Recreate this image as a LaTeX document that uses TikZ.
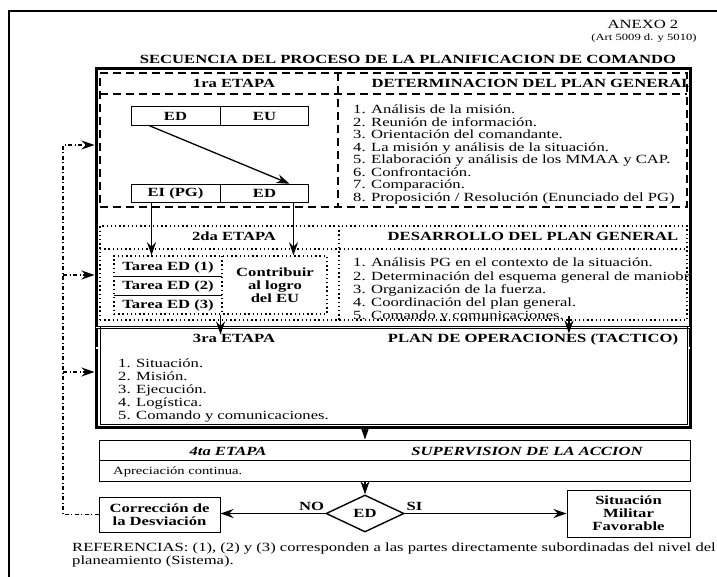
\documentclass[tikz,border=0pt]{standalone}
\usepackage{fontspec}
\setmainfont{Liberation Serif}[FakeStretch=1.33]
\usetikzlibrary{arrows.meta,shapes.multipart,shapes.geometric,calc}
\newcommand{\txtsize}{\fontsize{12.5}{13}\selectfont}
\tikzset{
  item/.style={ % one line of a list
    font=\txtsize, inner sep=0pt, anchor=base west
  },
  head/.style={ % header of a stage
    font=\txtsize\bfseries, inner sep=0pt, anchor=base
  },
  headit/.style={head, font=\txtsize\bfseries\itshape},
  lbl/.style={font=\txtsize\bfseries, inner sep=1pt, align=center},
  mainbox/.style={draw, line width=3pt, inner sep=0pt},
  dashbox/.style={ % 1ra etapa
    draw, line width=1.6pt, dash pattern=on 8pt off 5pt, inner sep=0pt
  },
  dotbox/.style={ % 2da etapa
    draw, line width=1.5pt, dash pattern=on 1.4pt off 2.8pt, inner sep=0pt
  },
  edbox/.style={
    draw, line width=1pt, rectangle split, rectangle split parts=2,
    rectangle split horizontal, text width=72pt, align=center,
    inner xsep=8pt, inner ysep=0pt, minimum height=18.5pt,
    font=\txtsize\bfseries
  },
  endbox/.style={draw, line width=1pt, align=center, inner sep=2pt,
    font=\txtsize\bfseries},
  decision/.style={draw, diamond, line width=1.4pt, minimum width=78pt,
    minimum height=37pt, inner sep=0pt, font=\txtsize\bfseries},
  dbl/.style={double, double distance=1.3pt, line width=0.8pt},
  arr/.style={->, line width=1.3pt},
  loopline/.style={->, line width=1.2pt,
    dash pattern=on 4pt off 2.5pt on 1pt off 2.5pt}
}

\begin{document}
\begin{tikzpicture}[
      x=1pt, y=-1pt, >={Stealth[length=13pt,width=9pt]}
    ]
  \useasboundingbox (0,0) rectangle (717,577);

  % page frame
  \draw[line width=1.4pt] (717,11) -- (9,11) -- (9,577);

  \node[item, anchor=base] (anexo_label) at (643,29) {ANEXO 2};
  \node[item, anchor=base, font=\fontsize{9.5}{11}\selectfont] (art_label) at (644,41) {(Art 5009 d. y 5010)};
  \node[head] (title_text) at (408,64) {SECUENCIA DEL PROCESO DE LA PLANIFICACION DE COMANDO};

  \node[mainbox, minimum width=594pt, minimum height=358pt] (main) at (393,248) {};

  % 1ra etapa
  \node[dashbox, minimum width=587pt, minimum height=134pt] (sec1) at (393.5,140) {};
  \draw[dashbox] (100,94) -- (687,94) (338,73) -- (338,207);
  \node[head] (h1a) at (234,88) {1ra ETAPA};
  \begin{scope}
    \clip (338,73) rectangle (689,207);
    \node[head] (h1b) at (532,88) {DETERMINACION DEL PLAN GENERAL};
    \foreach \t [count=\i] in {{Análisis de la misión.}, {Reunión de información.},
        {Orientación del comandante.}, {La misión y análisis de la situación.},
        {Elaboración y análisis de los MMAA y CAP.}, {Confrontación.},
        {Comparación.}, {Proposición / Resolución (Enunciado del PG)}}
      \node[item] (p1\i) at (353,{114+12.5*(\i-1)}) {\i. \t};
  \end{scope}
  \node[edbox] (edeu) at (220,116) {ED\nodepart{two}EU};
  \node[edbox] (eied) at (220,193.5) {EI (PG)\nodepart{two}ED};
  \draw[arr] ([xshift=-26pt]edeu.one south) -- ([xshift=25pt]eied.two north);

  % 2da etapa
  \node[dotbox, minimum width=587pt, minimum height=94pt] (sec2) at (393.5,273) {};
  \draw[dotbox] (100,249) -- (687,249) (339,226) -- (339,320);
  \node[head] (h2a) at (234,241) {2da ETAPA};
  \node[head] (h2b) at (533,241) {DESARROLLO DEL PLAN GENERAL};
  \begin{scope}
    \clip (339,249) rectangle (689,320);
    \foreach \t [count=\i] in {{Análisis PG en el contexto de la situación.},
        {Determinación del esquema general de maniobra.},
        {Organización de la fuerza.}, {Coordinación del plan general.},
        {Comando y comunicaciones.}}
      \node[item] (p2\i) at (353,{267+13*(\i-1)}) {\i. \t};
  \end{scope}
  \node[dotbox, minimum width=213pt, minimum height=58pt] (tbox) at (220.5,285) {};
  \draw[dotbox] (222,256) -- (222,314);
  \draw[line width=1pt] (114,276) -- (222,276) (114,295) -- (222,295);
  \foreach \k/\yy in {1/267,2/286,3/305}
    \node[lbl] (t\k) at (168,\yy) {Tarea ED (\k)};
  \node[lbl] (contrib) at (275,285) {Contribuir\\al logro\\del EU};
  \coordinate (a1) at ([xshift=-24pt]eied.one south);
  \coordinate (a2) at ([xshift=29pt]eied.two south);
  \draw[arr] (a1) -- (a1 |- tbox.north);
  \draw[arr] (a2) -- (a2 |- tbox.north);

  % 3ra etapa
  \coordinate (top3) at (393,327.5);
  \draw[dbl] (96,327.5) -- (690,327.5);
  \draw[dbl] (96,348) -- (690,348);
  \draw[line width=0.8pt] (100,327) -- (100,424) -- (687,424) -- (687,327);
  \node[head] (h3a) at (234,342) {3ra ETAPA};
  \node[head] (h3b) at (533,342) {PLAN DE OPERACIONES (TACTICO)};
  \foreach \t [count=\i] in {{Situación.}, {Misión.}, {Ejecución.}, {Logística.},
      {Comando y comunicaciones.}}
    \node[item] (p3\i) at (118,{367+13.2*(\i-1)}) {\i. \t};
  \coordinate (a3) at (tbox.south |- top3);
  \draw[arr] (tbox.south) -- ([yshift=-7pt]a3);
  \coordinate (a4) at ([xshift=5pt]p25.east);
  \coordinate (a5) at (a4 |- top3);
  \draw[arr] (a4) -- ([yshift=-6pt]a5);

  % 4ta etapa
  \node[draw, line width=1pt, minimum width=591pt, minimum height=41pt] (sec4) at (394.5,460.5) {};
  \draw[line width=1pt] (99,460) -- (690,460);
  \node[headit] (h4a) at (228,455) {4ta ETAPA};
  \node[headit] (h4b) at (527,455) {SUPERVISION DE LA ACCION};
  \node[item, font=\fontsize{11}{12}\selectfont] (apre) at (113,474.5) {Apreciación continua.};

  % decision
  \node[decision] (dec) at (365,513.5) {ED};
  \node[endbox, minimum width=121pt, minimum height=35pt] (corr) at (159.5,514.5) {Corrección de\\la Desviación};
  \node[endbox, minimum width=123pt, minimum height=47pt] (sit) at (628.5,513.5) {Situación\\Militar\\Favorable};
  \draw[arr] (main.south -| dec.north) -- (sec4.north -| dec.north);
  \draw[arr] (sec4.south -| dec.north) -- (dec.north);
  \draw[arr] (dec.west) -- (dec.west -| corr.east) node[lbl, pos=0.13, above=1pt] {NO};
  \draw[arr] (dec.east) -- (dec.east -| sit.west) node[lbl, pos=0.06, above=1pt] {SI};

  % feedback loop
  \coordinate (lb) at (63,514.5);
  \coordinate (lt) at (63,145);
  \draw[loopline] (corr.west) -- (lb) -- (lt) -- (lt -| main.west);
  \foreach \yy [count=\k] in {275,372} {
    \coordinate (lm\k) at (63,\yy);
    \draw[loopline] (lm\k) -- (lm\k -| main.west);
  }

  \node[item] (ref_text) at (72,551) {REFERENCIAS: (1), (2) y (3) corresponden a las partes directamente subordinadas del nivel del};
  \node[item] (ref_text2) at (72,564) {planeamiento (Sistema).};
\end{tikzpicture}
\end{document}
